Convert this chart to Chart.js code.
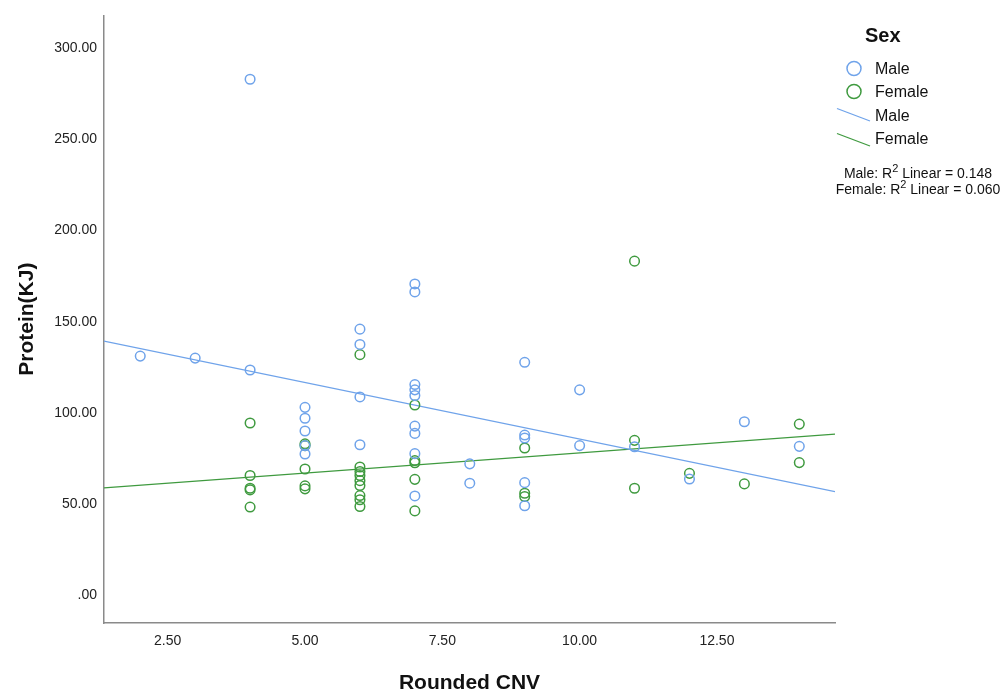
<!DOCTYPE html>
<html>
<head>
<meta charset="utf-8">
<script src="https://cdn.jsdelivr.net/npm/chart.js@4"></script>
<style>
  html, body { margin: 0; padding: 0; background: #fff; }
  #wrap { width: 1003px; height: 693px; position: relative; }
</style>
</head>
<body>
<div id="wrap"><canvas id="c" width="1003" height="693"></canvas></div>
<script>
// Rounded CNV (x) and Protein in KJ (y), per sex
const maleX = [2, 3, 4, 4, 5, 5, 5, 5, 5, 6, 6, 6, 6,
  7, 7, 7, 7, 7, 7, 7, 7, 7, 8, 8, 9, 9, 9, 9, 9, 10, 10, 11, 12, 13, 14];
const maleY = [131.1, 130.0, 123.5, 283.0, 103.0, 97.0, 90.0, 82.0, 77.4, 145.9, 137.5, 108.7, 82.5,
  170.7, 166.3, 115.5, 112.6, 109.5, 92.7, 88.7, 77.6, 54.4, 72.0, 61.4, 127.7, 87.8, 86.2, 61.7, 49.0,
  112.6, 82.0, 81.4, 63.7, 95.1, 81.6];

const femaleX = [4, 4, 4, 4, 4, 5, 5, 5, 5, 5, 6, 6, 6, 6, 6, 6, 6, 6, 6,
  7, 7, 7, 7, 7, 9, 9, 9, 11, 11, 11, 12, 13, 14, 14];
const femaleY = [94.4, 65.6, 58.6, 57.7, 48.3, 83.0, 82.0, 69.2, 59.9, 58.3,
  131.9, 70.3, 67.8, 65.6, 62.8, 60.1, 54.6, 52.3, 48.6,
  104.3, 73.8, 72.6, 63.5, 46.2, 80.7, 55.9, 54.1, 183.2, 84.9, 58.6, 66.8, 61.0, 93.8, 72.7];

// Linear fit lines (end points across the x range)
const maleFitX = [1.34, 14.65];
const maleFitY = [139.3, 56.8];
const femaleFitX = [1.34, 14.65];
const femaleFitY = [58.8, 88.3];

const xTicks = [2.5, 5, 7.5, 10, 12.5];
const yTicks = [0, 50, 100, 150, 200, 250, 300];

const legendTitle = 'Sex';
const seriesNames = ['Male', 'Female'];
const r2Lines = ['Male: R', ' Linear = 0.148', 'Female: R', ' Linear = 0.060'];

const BLUE = '#6fa3ea';
const GREEN = '#3f9a3f';
const FONT = '"Liberation Sans", Arial, sans-serif';

const pts = (xs, ys) => xs.map((x, i) => ({ x: x, y: ys[i] }));

const legendPlugin = {
  id: 'sexLegend',
  afterDraw(chart) {
    const ctx = chart.ctx;
    ctx.save();
    ctx.fillStyle = '#111';
    ctx.textBaseline = 'middle';
    ctx.textAlign = 'left';
    ctx.font = 'bold 20px ' + FONT;
    ctx.fillText(legendTitle, 865, 36);

    // marker entries
    ctx.lineWidth = 1.5;
    ctx.font = '16px ' + FONT;
    [[BLUE, 68.5], [GREEN, 91.5]].forEach(([col, y], i) => {
      ctx.strokeStyle = col;
      ctx.beginPath();
      ctx.arc(854, y, 7, 0, Math.PI * 2);
      ctx.stroke();
      ctx.fillStyle = '#111';
      ctx.fillText(seriesNames[i], 875, y + 1);
    });
    // line entries
    [[BLUE, 108.5, 117], [GREEN, 133.5, 140]].forEach(([col, y, ty], i) => {
      ctx.strokeStyle = col;
      ctx.lineWidth = 1.3;
      ctx.beginPath();
      ctx.moveTo(837, y);
      ctx.lineTo(870, y + 12.5);
      ctx.stroke();
      ctx.fillStyle = '#111';
      ctx.fillText(seriesNames[i], 875, ty);
    });

    // R squared notes, centred
    const drawR2 = (pre, post, cx, cy) => {
      ctx.font = '14px ' + FONT;
      const w1 = ctx.measureText(pre).width;
      const w3 = ctx.measureText(post).width;
      ctx.font = '11px ' + FONT;
      const w2 = ctx.measureText('2').width;
      const total = w1 + w2 + w3;
      let x = cx - total / 2;
      ctx.fillStyle = '#111';
      ctx.font = '14px ' + FONT;
      ctx.fillText(pre, x, cy);
      x += w1;
      ctx.font = '11px ' + FONT;
      ctx.fillText('2', x, cy - 5);
      x += w2;
      ctx.font = '14px ' + FONT;
      ctx.fillText(post, x, cy);
    };
    drawR2(r2Lines[0], r2Lines[1], 918, 174);
    drawR2(r2Lines[2], r2Lines[3], 918, 190);
    ctx.restore();
  }
};

new Chart(document.getElementById('c'), {
  type: 'scatter',
  data: {
    datasets: [
      {
        label: 'Male fit', type: 'line', data: pts(maleFitX, maleFitY),
        borderColor: BLUE, borderWidth: 1.3, pointRadius: 0, fill: false, order: 3
      },
      {
        label: 'Female fit', type: 'line', data: pts(femaleFitX, femaleFitY),
        borderColor: GREEN, borderWidth: 1.3, pointRadius: 0, fill: false, order: 3
      },
      {
        label: 'Male', data: pts(maleX, maleY),
        borderColor: BLUE, backgroundColor: 'rgba(0,0,0,0)',
        pointRadius: 4.8, borderWidth: 1.5, order: 1
      },
      {
        label: 'Female', data: pts(femaleX, femaleY),
        borderColor: GREEN, backgroundColor: 'rgba(0,0,0,0)',
        pointRadius: 4.8, borderWidth: 1.5, order: 2
      }
    ]
  },
  options: {
    responsive: false,
    animation: false,
    layout: { padding: { left: 0, right: 168, top: 13, bottom: 0 } },
    plugins: { legend: { display: false }, tooltip: { enabled: false } },
    scales: {
      x: {
        type: 'linear', min: 1.34, max: 14.65,
        grid: { display: false, drawTicks: false },
        border: { display: true, color: '#8a8a8a', width: 1.5 },
        afterBuildTicks: s => { s.ticks = xTicks.map(v => ({ value: v })); },
        afterFit: s => { s.height = 70; },
        ticks: {
          padding: 10, color: '#222', font: { family: FONT, size: 14 },
          maxRotation: 0, autoSkip: false,
          callback: v => v.toFixed(2)
        },
        title: {
          display: true, text: 'Rounded CNV', color: '#111',
          font: { family: FONT, size: 21, weight: 'bold' },
          padding: { top: 0, bottom: -3 }
        }
      },
      y: {
        type: 'linear', min: -15.3, max: 318,
        grid: { display: false, drawTicks: false },
        border: { display: true, color: '#8a8a8a', width: 1.5 },
        afterBuildTicks: s => { s.ticks = yTicks.map(v => ({ value: v })); },
        afterFit: s => { s.width = 104; },
        ticks: {
          padding: 7, color: '#222', font: { family: FONT, size: 14 },
          autoSkip: false,
          callback: v => (v === 0 ? '.00' : v.toFixed(2))
        },
        title: {
          display: true, text: 'Protein(KJ)', color: '#111',
          font: { family: FONT, size: 21, weight: 'bold' },
          padding: { top: 15, bottom: 0 }
        }
      }
    }
  },
  plugins: [legendPlugin]
});
</script>
</body>
</html>
